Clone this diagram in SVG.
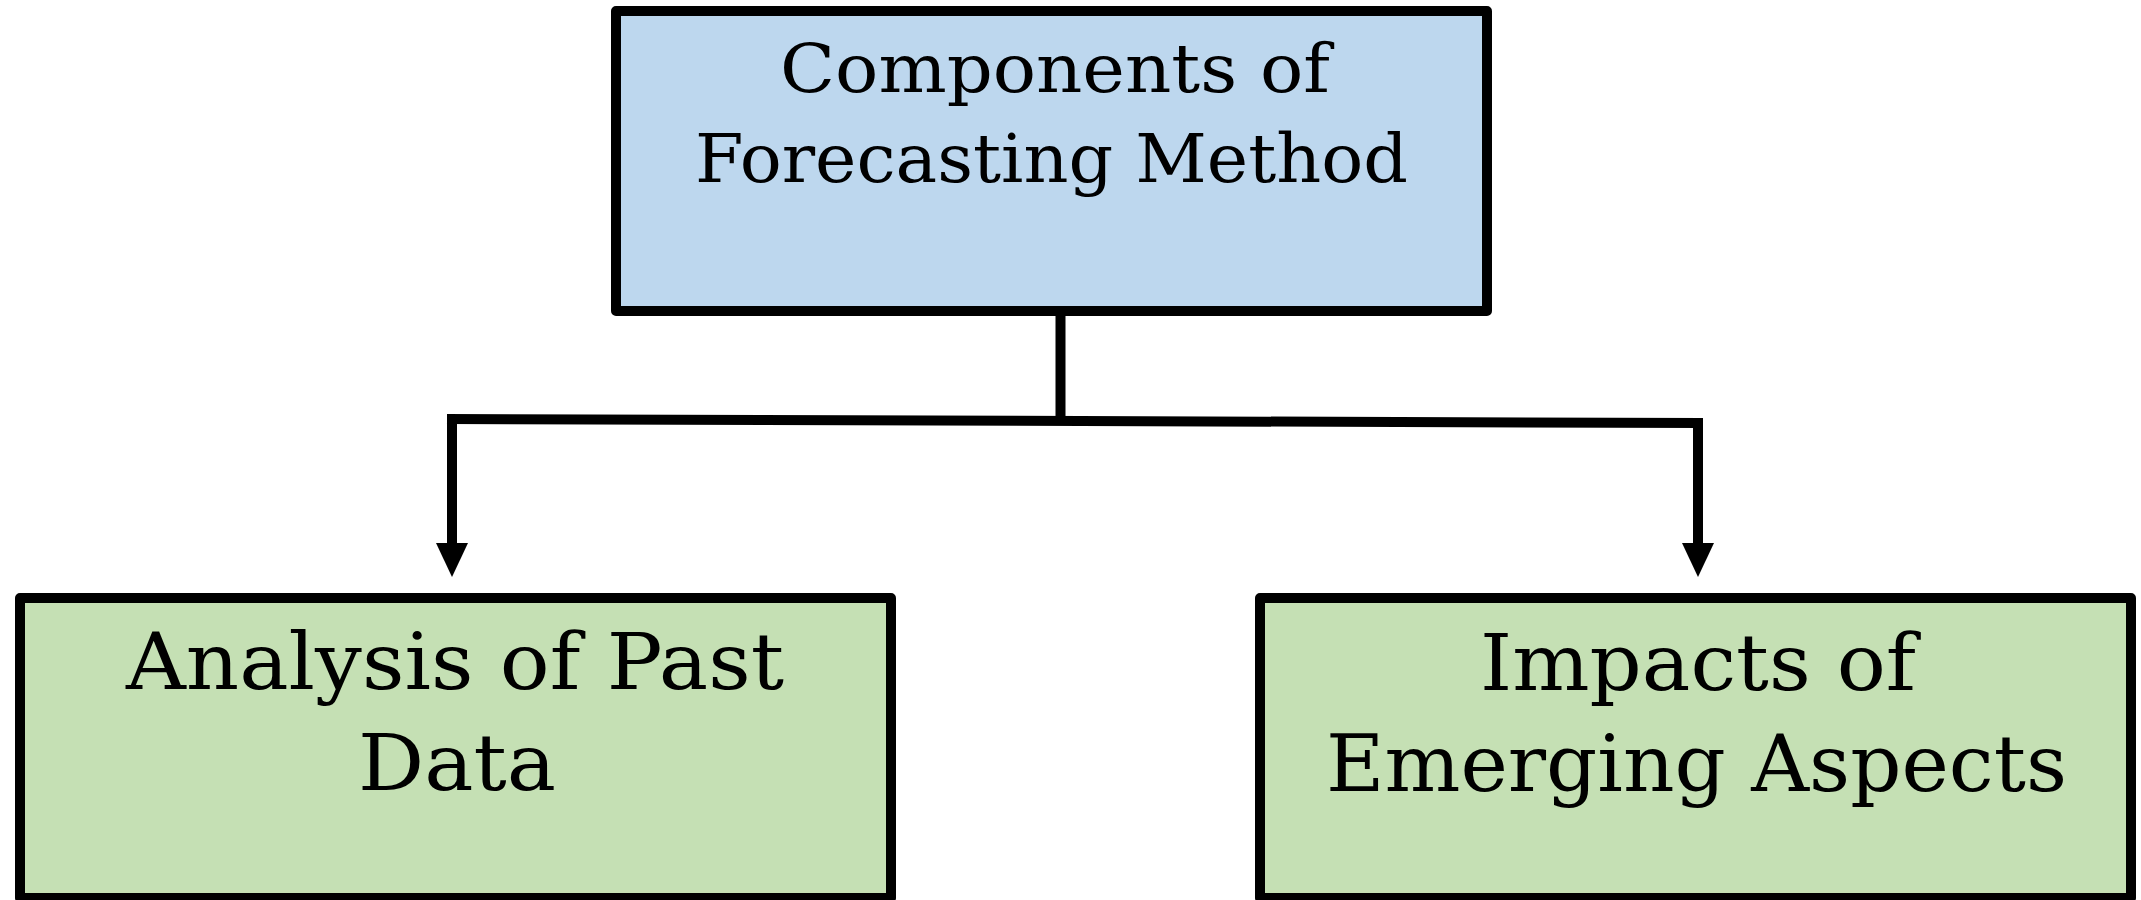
<svg xmlns="http://www.w3.org/2000/svg" width="2141" height="900" viewBox="0 0 2141 900">
<style>
.box{stroke:#000;stroke-width:10;stroke-linejoin:round}
.blue{fill:#BDD7EE}
.green{fill:#C5E0B4}
.t{font-family:"DejaVu Serif","Liberation Serif",serif;fill:#000;text-anchor:middle}
.t1{font-size:68px}
.t2{font-size:79px}
.ln{stroke:#000;stroke-width:10;fill:none}
</style>
<rect width="2141" height="900" fill="#fff"/>
<g id="connectors">
<line class="ln" x1="1060.5" y1="311" x2="1060.5" y2="421"/>
<line class="ln" x1="447" y1="419" x2="1703" y2="423"/>
<line class="ln" x1="452" y1="419" x2="452" y2="546"/>
<polygon points="436,543 468,543 452,577" fill="#000"/>
<line class="ln" x1="1698" y1="423" x2="1698" y2="546"/>
<polygon points="1682,543 1714,543 1698,577" fill="#000"/>
</g>
<g id="node-top">
<rect class="box blue" x="616" y="11" width="871" height="300"/>
<text class="t t1" x="1055" y="92" textLength="550" lengthAdjust="spacingAndGlyphs">Components of</text>
<text class="t t1" x="1051.5" y="182" textLength="713" lengthAdjust="spacingAndGlyphs">Forecasting Method</text>
</g>
<g id="node-left">
<rect class="box green" x="20" y="598" width="871" height="300"/>
<text class="t t2" x="455" y="689" textLength="658" lengthAdjust="spacingAndGlyphs">Analysis of Past</text>
<text class="t t2" x="457" y="790" textLength="198" lengthAdjust="spacingAndGlyphs">Data</text>
</g>
<g id="node-right">
<rect class="box green" x="1260" y="598" width="871" height="300"/>
<text class="t t2" x="1698" y="690" textLength="436" lengthAdjust="spacingAndGlyphs">Impacts of</text>
<text class="t t2" x="1696.5" y="791" textLength="741" lengthAdjust="spacingAndGlyphs">Emerging Aspects</text>
</g>
</svg>
